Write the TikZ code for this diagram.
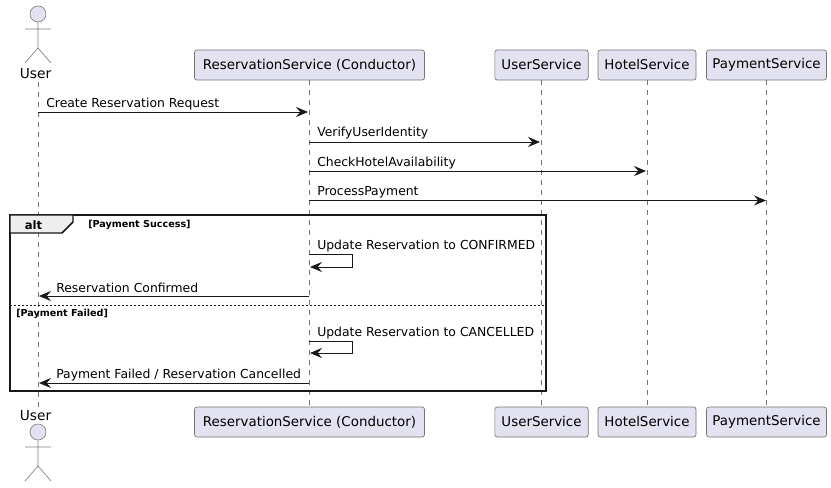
\documentclass[tikz,border=0pt]{standalone}
\usepackage{fontspec}
\setmainfont{DejaVu Sans}
\usetikzlibrary{arrows.meta,positioning,backgrounds}
\definecolor{partfill}{HTML}{E2E2F0}
\definecolor{inkline}{HTML}{181818}
\definecolor{altfill}{HTML}{EEEEEE}
\tikzset{
  part/.style={draw=inkline!60,line width=.5pt,fill=partfill,rounded corners=1.8pt,
    minimum height=22.5pt,inner sep=0pt,text=black,font=\fontsize{10.05}{12}\selectfont},
  lifeline/.style={draw=inkline!60,line width=.4pt,dash pattern=on 3.75pt off 3.75pt},
  msg/.style={draw=inkline,line width=.6pt,-{Stealth[length=9pt,width=7.5pt,inset=3.2pt]}},
  msgtext/.style={anchor=base west,inner sep=0pt,text=black,font=\fontsize{9.3}{11}\selectfont},
  guard/.style={anchor=base west,inner sep=0pt,text=black,font=\fontsize{7.2}{9}\bfseries\selectfont},
  actorlabel/.style={inner sep=0pt,text=black,font=\fontsize{10.3}{12}\selectfont},
  actorpen/.style={draw=inkline!55,line width=.5pt}
}
\newcommand{\stickman}[2]{% head centre x, head centre y
  \draw[actorpen,fill=partfill] (#1,#2) circle (6pt);
  \draw[actorpen] (#1,#2+8) -- (#1,#2+34) (#1-13,#2+15) -- (#1+13,#2+15)
    (#1-13,#2+49) -- (#1,#2+34) -- (#1+13,#2+49);
}
\begin{document}
\begin{tikzpicture}[x=.75pt,y=-.75pt]
\useasboundingbox (0,0) rectangle (831,488);
\node[part,minimum width=172.5pt] (resTop) at (309.5,65) {ReservationService (Conductor)};
\node[part,minimum width=70pt] (userSvcTop) at (541.5,65) {UserService};
\node[part,minimum width=73.5pt] (hotelTop) at (647,65) {HotelService};
\node[part,minimum width=90pt] (payTop) at (766.5,65) {PaymentService};
\node[part,minimum width=172.5pt] (resBot) at (309.5,422) {ReservationService (Conductor)};
\node[part,minimum width=70pt] (userSvcBot) at (541.5,422) {UserService};
\node[part,minimum width=73.5pt] (hotelBot) at (647,422) {HotelService};
\node[part,minimum width=90pt] (payBot) at (766.5,422) {PaymentService};
\node[actorlabel] (userTop) at (35.5,73.5) {User};
\node[actorlabel] (userBot) at (35.5,416) {User};
\stickman{38}{14}
\stickman{38}{432}
% lifelines go under everything
\begin{scope}[on background layer]
\draw[lifeline] (38,82) -- (38,407);
\foreach \p in {res,userSvc,hotel,pay}
\draw[lifeline] (\p Top) -- (\p Bot);
\end{scope}

% alt frame
\draw[inkline,line width=1.1pt] (10,215) rectangle (546,391);
\draw[inkline,line width=1.1pt,fill=altfill] (10,215) -- (73,215) -- (73,222) -- (62,233) -- (10,233) -- cycle;
\draw[inkline,line width=.5pt,dash pattern=on 1.5pt off 1.5pt] (10,305) -- (546,305);
\node[inner sep=0pt,anchor=base,text=black,font=\fontsize{8.7}{11}\bfseries\selectfont] (altTag) at (33.5,229) {alt};
\node[guard] (guardOk) at (88,228) {[Payment Success]};
\node[guard] (guardBad) at (16,316) {[Payment Failed]};

% end points of the messages
\foreach \n/\x/\y in {a/38/112,b/308/112,c/309/142,d/540/142,e/309/171,f/646/171,g/309/200.5,h/766/200.5,
  i/309/254,j/352/254,k/352/267,l/310/267,m/309/296,n/39/296,
  o/309/341,p/352/341,q/352/353,r/310/353,s/309/383,t/39/383}
\coordinate (\n) at (\x,\y);

\draw[msg] (a) -- (b);
\draw[msg] (c) -- (d);
\draw[msg] (e) -- (f);
\draw[msg] (g) -- (h);
\draw[msg] (i) -- (j) -- (k) -- (l);
\draw[msg] (m) -- (n);
\draw[msg] (o) -- (p) -- (q) -- (r);
\draw[msg] (s) -- (t);

\node[msgtext] (m1) at (46,108) {Create Reservation Request};
\node[msgtext] (m2) at (317,137) {VerifyUserIdentity};
\node[msgtext] (m3) at (317,167) {CheckHotelAvailability};
\node[msgtext] (m4) at (317,196) {ProcessPayment};
\node[msgtext] (m5) at (317,250) {Update Reservation to CONFIRMED};
\node[msgtext] (m6) at (56,292) {Reservation Confirmed};
\node[msgtext] (m7) at (317,336) {Update Reservation to CANCELLED};
\node[msgtext] (m8) at (56,378) {Payment Failed / Reservation Cancelled};
\end{tikzpicture}
\end{document}
